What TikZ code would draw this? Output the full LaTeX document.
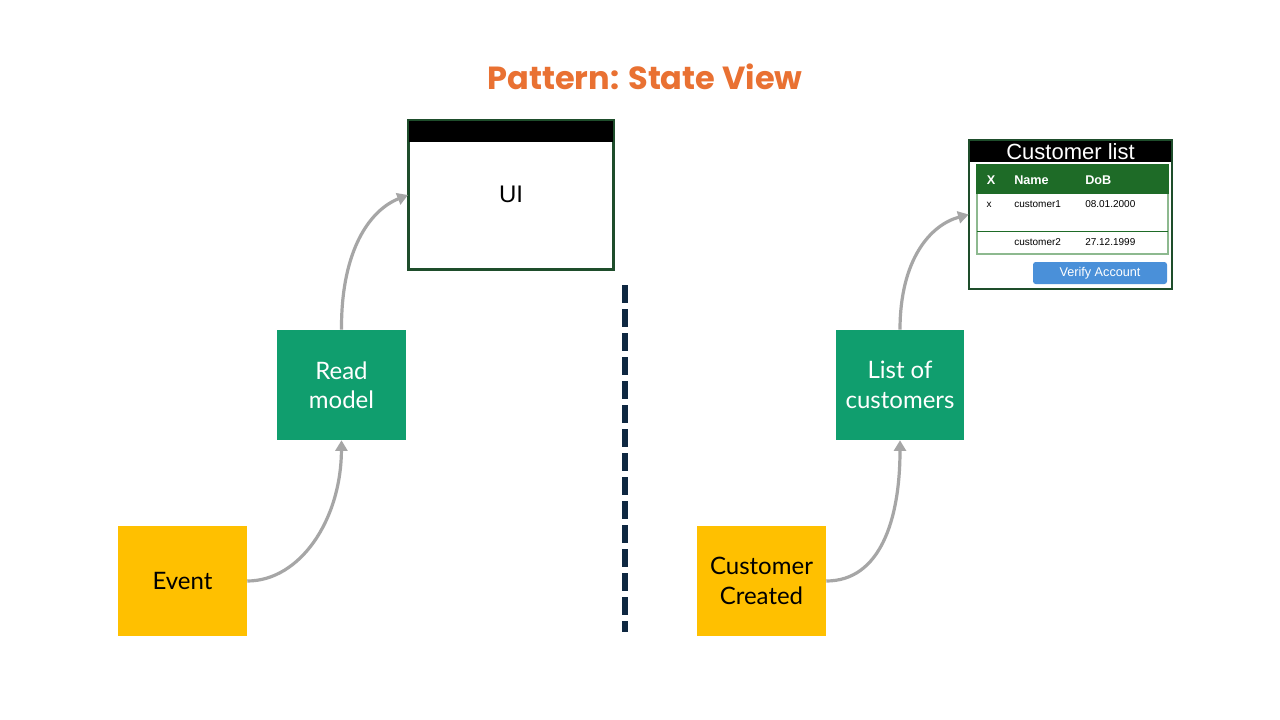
\documentclass[tikz,border=0pt]{standalone}
\usepackage{fontspec}
\setmainfont{Lato}
\newfontfamily\titlefont{Poppins}
\newfontfamily\arialfont{Liberation Sans}
\usetikzlibrary{arrows.meta}
\definecolor{titleorange}{HTML}{E97132}
\definecolor{rmgreen}{HTML}{109E6E}
\definecolor{evyellow}{HTML}{FFC000}
\definecolor{arrowgray}{HTML}{A6A6A6}
\definecolor{divnavy}{HTML}{0E2841}
\definecolor{uiborder}{HTML}{1E4D2B}
\definecolor{tblgreen}{HTML}{1E6B27}
\definecolor{tbllight}{HTML}{8DB98F}
\definecolor{btnblue}{HTML}{4A90D9}
\tikzset{
  stickybox/.style={rectangle, minimum width=129*0.75pt, minimum height=110*0.75pt, inner sep=0pt, align=center, font=\fontsize{18}{22}\selectfont},
  eventbox/.style={stickybox, fill=evyellow, text=black},
  readbox/.style={stickybox, fill=rmgreen, text=white},
  flow/.style={draw=arrowgray, line width=2.4pt, -{Triangle[width=9pt,length=8pt]}},
  cell/.style={inner sep=0pt, anchor=west, font=\arialfont\fontsize{7.5}{9}\selectfont},
}
\begin{document}
\begin{tikzpicture}[x=0.75pt,y=-0.75pt]
\useasboundingbox[fill=white] (0,0) rectangle (1280,720);
% title
\node[font=\titlefont\bfseries\fontsize{24}{28}\selectfont, text=titleorange] (title) at (645,77) {Pattern: State View};
% left side
\node[eventbox] (event) at (182.5,581) {Event};
\node[readbox] (read) at (341.5,385) {Read\\model};
\node[rectangle, draw=uiborder, line width=1.5pt, minimum width=204*0.75pt, minimum height=148*0.75pt, inner sep=0pt] (ui) at (511,195) {};
\fill[black] (ui.north west) rectangle ([yshift=-22*0.75pt]ui.north east);
\draw[uiborder, line width=1.5pt] (ui.north west) rectangle (ui.south east);
\node[font=\arialfont\fontsize{18}{22}\selectfont] (uilabel) at (511,194) {UI};
% divider
\coordinate (d1) at (625,285);
\coordinate (d2) at (625,632);
\draw[divnavy, line width=4.5pt, dash pattern=on 13.5pt off 4.5pt] (d1) -- (d2);
% right side
\node[eventbox] (cc) at (761.5,581) {Customer\\Created};
\node[readbox, minimum width=128*0.75pt] (list) at (900,385) {List of\\customers};
\node[rectangle, minimum width=203*0.75pt, minimum height=149*0.75pt, inner sep=0pt] (cl) at (1070.5,214.5) {};
\fill[black] (cl.north west) rectangle ([yshift=-22*0.75pt]cl.north east);
\draw[uiborder, line width=1.5pt] (cl.north west) rectangle (cl.south east);
\node[font=\arialfont\fontsize{16.5}{18}\selectfont, text=white] (cltitle) at (1070.5,151.5) {Customer list};
% table
\coordinate (t1) at (977,165);
\coordinate (t2) at (1168,254);
\fill[tblgreen] (977,165) rectangle (1168,193);
\draw[tbllight, line width=1.2pt] (t1) rectangle (t2);
\draw[tblgreen, line width=1.2pt] (977,165) rectangle (1168,193);
\draw[tblgreen, line width=0.8pt] (977,231.5) -- (1168,231.5);
\node[cell, anchor=center, font=\arialfont\bfseries\fontsize{9.5}{11}\selectfont, text=white] (hx) at (991,180) {X};
\node[cell, font=\arialfont\bfseries\fontsize{9.5}{11}\selectfont, text=white] (hname) at (1014,180) {Name};
\node[cell, font=\arialfont\bfseries\fontsize{9.5}{11}\selectfont, text=white] (hdob) at (1085,180) {DoB};
\node[cell, anchor=center] (r1x) at (989,205) {x};
\node[cell] (r1n) at (1014,204) {customer1};
\node[cell] (r1d) at (1085,204) {08.01.2000};
\node[cell] (r2n) at (1014,242) {customer2};
\node[cell] (r2d) at (1085,242) {27.12.1999};
\node[rectangle, rounded corners=2pt, fill=btnblue, minimum width=134*0.75pt, minimum height=22*0.75pt, inner sep=0pt, text=white, font=\arialfont\fontsize{9.5}{11}\selectfont] (btn) at (1100,273) {Verify Account};
% connectors
\draw[flow] (event.east) .. controls (300,581) and (341,520) .. (read.south);
\draw[flow] (read.north) .. controls (341,250) and (370,210) .. (ui.west);
\draw[flow] (cc.east) .. controls (880,581) and (900,520) .. (list.south);
\draw[flow] (list.north) .. controls (900,260) and (930,225) .. (cl.west);
\end{tikzpicture}
\end{document}
